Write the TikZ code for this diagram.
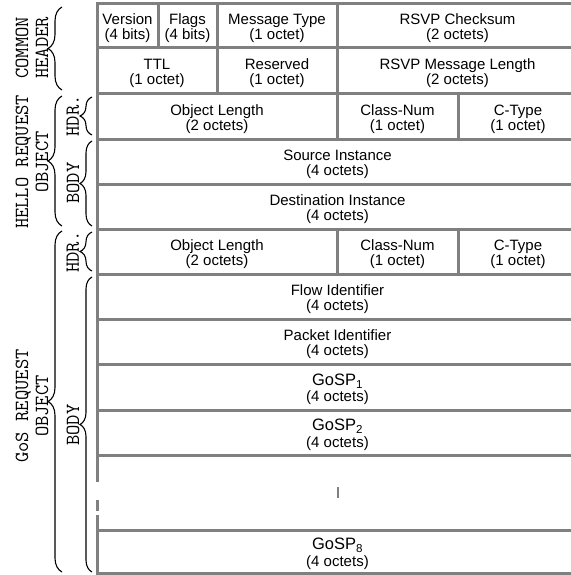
\documentclass[tikz,border=0pt]{standalone}
\usepackage{fontspec}
\setmainfont{Liberation Sans}
\usetikzlibrary{decorations.pathreplacing}
\definecolor{gridgray}{RGB}{128,128,128}
\newcommand\gospfont{\fontsize{16.5}{16}\selectfont}
\newcommand\pktcell[6]{%
  \node[cellbox, minimum width={(#4-#2)*1pt}, minimum height={(#5-#3)*1pt}]
    (#1) at ({(#2+#4)/2},{(#3+#5)/2}) {};
  \node[celltext] (#1-t) at ([yshift=-2.5pt]#1.center) {#6};}
\begin{document}
\begin{tikzpicture}[x=1pt,y=-1pt,
  cellbox/.style={draw=gridgray, line width=3pt, inner sep=0pt, outer sep=0pt},
  celltext/.style={inner sep=0pt, align=center, font=\fontsize{15}{15}\selectfont},
  sidelabel/.style={rotate=90, align=center, inner sep=0pt,
    font=\ttfamily\fontsize{20}{20}\selectfont},
  bracebig/.style={decorate, decoration={brace, amplitude=14pt}, line width=1.1pt, black},
  bracesmall/.style={decorate, decoration={brace, amplitude=12pt}, line width=1.1pt, black},
  leftedge/.style={draw=gridgray, line width=3pt}]
\useasboundingbox (0,0) rectangle (570,575);
% ---- common header
\pktcell{ver}{97}{4}{158}{48}{Version\\(4 bits)}
\pktcell{flags}{158}{4}{217}{48}{Flags\\(4 bits)}
\pktcell{mtype}{217}{4}{337}{48}{Message Type\\(1 octet)}
\pktcell{csum}{337}{4}{578}{48}{RSVP Checksum\\(2 octets)}
\pktcell{ttl}{97}{48}{217}{94}{TTL\\(1 octet)}
\pktcell{resv}{217}{48}{337}{94}{Reserved\\(1 octet)}
\pktcell{mlen}{337}{48}{578}{94}{RSVP Message Length\\(2 octets)}
% ---- hello request object
\pktcell{holen}{97}{94}{337}{139}{Object Length\\(2 octets)}
\pktcell{hcnum}{337}{94}{458}{139}{Class-Num\\(1 octet)}
\pktcell{hctype}{458}{94}{578}{139}{C-Type\\(1 octet)}
\pktcell{src}{97}{139}{578}{184}{Source Instance\\(4 octets)}
\pktcell{dst}{97}{184}{578}{229}{Destination Instance\\(4 octets)}
% ---- gos request object
\pktcell{golen}{97}{229}{337}{274}{Object Length\\(2 octets)}
\pktcell{gcnum}{337}{229}{458}{274}{Class-Num\\(1 octet)}
\pktcell{gctype}{458}{229}{578}{274}{C-Type\\(1 octet)}
\pktcell{flow}{97}{274}{578}{319}{Flow Identifier\\(4 octets)}
\pktcell{pkt}{97}{319}{578}{364}{Packet Identifier\\(4 octets)}
\pktcell{gsp1}{97}{364}{578}{410}{{\gospfont GoSP\textsubscript{1}}\\[1.5pt](4 octets)}
\pktcell{gsp2}{97}{410}{578}{455}{{\gospfont GoSP\textsubscript{2}}\\[1.5pt](4 octets)}
\pktcell{gsp8}{97}{530}{578}{573}{{\gospfont GoSP\textsubscript{8}}\\[1.5pt](4 octets)}
% ellipsis row
\node[fill=gridgray, minimum width=2pt, minimum height=11pt, inner sep=0pt] (vdots) at (338,492.5) {};
\coordinate (e0) at (97,455);
\coordinate (e1) at (97,482);
\coordinate (e2) at (97,500);
\coordinate (e3) at (97,511);
\coordinate (e4) at (97,515);
\coordinate (e5) at (97,530);
\draw[leftedge] (e0) -- (e1) (e2) -- (e3) (e4) -- (e5);
% ---- braces
\coordinate (b1t) at (62,7);   \coordinate (b1b) at (62,90);
\coordinate (b2t) at (62,96);  \coordinate (b2b) at (62,226);
\coordinate (b3t) at (62,231); \coordinate (b3b) at (62,572);
\coordinate (s1t) at (92,97);  \coordinate (s1b) at (92,135);
\coordinate (s2t) at (92,141); \coordinate (s2b) at (92,226);
\coordinate (s3t) at (92,232); \coordinate (s3b) at (92,271);
\coordinate (s4t) at (92,277); \coordinate (s4b) at (92,572);
\draw[bracebig] (b1b) -- (b1t);
\draw[bracebig] (b2b) -- (b2t);
\draw[bracebig] (b3b) -- (b3t);
\draw[bracesmall] (s1b) -- (s1t);
\draw[bracesmall] (s2b) -- (s2t);
\draw[bracesmall] (s3b) -- (s3t);
\draw[bracesmall] (s4b) -- (s4t);
% ---- side labels
\node[sidelabel] (lcommon) at (32,48) {COMMON\\HEADER};
\node[sidelabel] (lhello) at (32,162) {HELLO REQUEST\\OBJECT};
\node[sidelabel] (lgos) at (32,406) {GoS REQUEST\\OBJECT};
\node[sidelabel] (lhhdr) at (73,116) {HDR.};
\node[sidelabel] (lhbody) at (73,183) {BODY};
\node[sidelabel] (lghdr) at (73,252) {HDR.};
\node[sidelabel] (lgbody) at (73,425) {BODY};
\end{tikzpicture}
\end{document}
